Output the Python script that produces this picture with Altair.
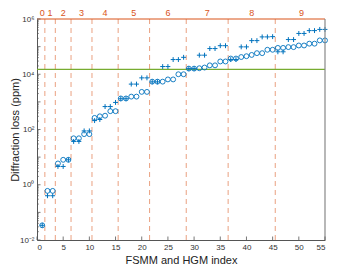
import altair as alt
import pandas as pd

# ---- data ----
index = list(range(1, 56))
fsmm_loss = [
    0.034,
    0.6, 0.6,
    5.9, 8, 8,
    48, 48, 68, 68,
    263, 300, 316, 460, 460,
    1330, 1330, 1550, 1550, 2300, 2300,
    5400, 5400, 5400, 6500, 6500, 10000, 10000,
    16000, 16000, 16500, 17500, 21000, 21000, 29000, 29000,
    37000, 37000, 42000, 45000, 50000, 58000, 58000, 77000, 77000,
    90000, 90000, 96000, 96000, 110000, 110000, 128000, 128000, 168000, 168000,
]
hgm_loss = [
    0.034,
    0.4, 0.4,
    4.6, 4.6, 8,
    37, 37, 89, 89,
    210, 230, 676, 676, 955,
    1300, 1300, 4400, 4400, 7400, 7400,
    5300, 5300, 19000, 19000, 34000, 34000, 41000,
    16000, 16000, 49000, 49000, 85000, 85000, 108000, 108000,
    34000, 34000, 98000, 98000, 165000, 165000, 225000, 225000, 230000,
    65000, 65000, 180000, 180000, 300000, 300000, 380000, 380000, 420000, 420000,
]
group_bounds = [1.5, 3.5, 6.5, 10.5, 15.5, 21.5, 28.5, 36.5, 45.5]
group_centers = [1, 2.5, 5, 8.5, 13, 18.5, 25, 32.5, 41, 50.5]
group_labels = ["0", "1", "2", "3", "4", "5", "6", "7", "8", "9"]
threshold = [15000]
x_tick_values = [0, 5, 10, 15, 20, 25, 30, 35, 40, 45, 50, 55]
y_tick_values = [1e-2, 1e0, 1e2, 1e4, 1e6]
y_tick_labels = ["10⁻²", "10⁰", "10²", "10⁴", "10⁶"]
y_minor_values = [m * 10.0 ** k for k in range(-2, 6) for m in range(2, 10)]
y_decades = [10.0 ** k for k in range(-2, 7)]

W, H = 288, 221
BLUE = "#0072BD"
ORANGE = "#D95319"
GREEN = "#77AC30"
AXC = "#555555"
FONT = "Liberation Sans"

xscale = alt.Scale(domain=[0, 55], nice=False, zero=False)
yscale = alt.Scale(type="log", domain=[1e-2, 1e6], nice=False)

label_expr = " : ".join(
    f"datum.value < {v * 3} ? '{l}'" for v, l in zip(y_tick_values[:-1], y_tick_labels[:-1])
) + f" : '{y_tick_labels[-1]}'"

x_axis = alt.Axis(
    values=x_tick_values, ticks=False, grid=False, title="FSMM and HGM index",
    domainColor=AXC, labelColor="#333", labelFontSize=8, labelFont=FONT,
    titleFont=FONT, titleFontSize=11, titleFontWeight="normal", titleColor="#222",
    labelPadding=3, titlePadding=3)
y_axis = alt.Axis(
    values=y_tick_values, labelExpr=label_expr, ticks=False, grid=False,
    title="Diffraction loss (ppm)", domainColor=AXC, labelColor="#333",
    labelFontSize=8, labelFont=FONT, titleFont=FONT, titleFontSize=11,
    titleFontWeight="normal", titleColor="#222", labelPadding=3,
    titleX=-22, titleY=H / 2, titleAngle=270, titleBaseline="middle", titleAlign="center")


def X(field):
    return alt.X(field, type="quantitative", scale=xscale, axis=x_axis)


def Y(field):
    return alt.Y(field, type="quantitative", scale=yscale, axis=y_axis)


pts = pd.DataFrame({"idx": index, "fsmm": fsmm_loss, "hgm": hgm_loss})

circles = alt.Chart(pts).mark_point(
    shape="circle", filled=False, color=BLUE, size=24, strokeWidth=0.9, opacity=1
).encode(x=X("idx"), y=Y("fsmm"))

pluses = alt.Chart(pts).mark_point(
    shape="M-1,0L1,0M0,-1L0,1", filled=False, color=BLUE, size=24, strokeWidth=1, opacity=1
).encode(x=X("idx"), y=Y("hgm"))

bounds = alt.Chart(pd.DataFrame({"b": group_bounds})).mark_rule(
    color=ORANGE, strokeDash=[5, 4], strokeWidth=1, opacity=0.55
).encode(x=X("b"), y=alt.value(0), y2=alt.value(H))

green = alt.Chart(pd.DataFrame({"t": threshold})).mark_rule(
    color=GREEN, strokeWidth=1.1
).encode(y=Y("t"), x=alt.value(0), x2=alt.value(W))

glabels = alt.Chart(pd.DataFrame({"c": group_centers, "l": group_labels})).mark_text(
    color=ORANGE, fontSize=9, font=FONT, baseline="bottom", dy=-1
).encode(x=X("c"), y=alt.value(0), text="l:N")

top_line = alt.Chart(pd.DataFrame({"v": [0]})).mark_rule(color=ORANGE, strokeWidth=1).encode(
    x=alt.value(0), x2=alt.value(W), y=alt.value(0))
right_line = alt.Chart(pd.DataFrame({"v": [0]})).mark_rule(color="#888888", strokeWidth=1.2).encode(
    x=alt.value(W), y=alt.value(0), y2=alt.value(H))

ymajor = alt.Chart(pd.DataFrame({"v": y_decades})).mark_rule(color=AXC, strokeWidth=0.8).encode(
    y=Y("v"), x=alt.value(0), x2=alt.value(3.5))
yminor = alt.Chart(pd.DataFrame({"v": y_minor_values})).mark_rule(color=AXC, strokeWidth=0.6).encode(
    y=Y("v"), x=alt.value(0), x2=alt.value(2))
xticks = alt.Chart(pd.DataFrame({"v": x_tick_values})).mark_rule(color=AXC, strokeWidth=0.8).encode(
    x=X("v"), y=alt.value(H), y2=alt.value(H - 3.5))

chart = alt.layer(
    bounds, green, circles, pluses, glabels, top_line, right_line, ymajor, yminor, xticks
).properties(
    width=W, height=H,
    autosize=alt.AutoSizeParams(type="none"),
    padding={"left": 29, "top": 11, "right": 6, "bottom": 27},
).configure_view(stroke=None)

chart.save("out.html", embed_options={"renderer": "svg", "actions": False})
